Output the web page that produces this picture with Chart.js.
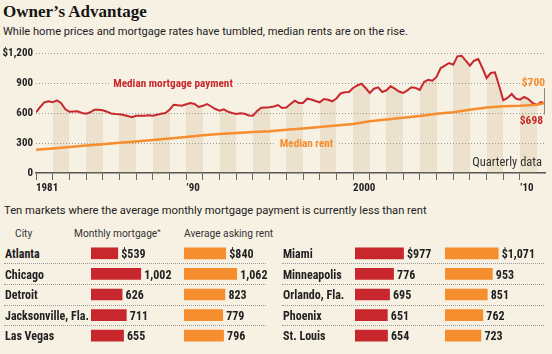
<!DOCTYPE html>
<html>
<head>
<meta charset="utf-8">
<script src="https://cdn.jsdelivr.net/npm/chart.js@4.4.1/dist/chart.umd.min.js"></script>
<style>
  html, body { margin: 0; padding: 0; }
  body { width: 552px; height: 354px; background: #f7f1e3; position: relative; overflow: hidden;
         font-family: Roboto, sans-serif; color: #222; }
  .t { position: absolute; white-space: nowrap; }
  #title { left: 3px; top: 2.5px; font: bold 17px/17px "Liberation Serif", serif; color: #151515; }
  #sub { left: 3px; top: 26px; font-size: 11.1px; line-height: 11px; }
  #ten { left: 4px; top: 205px; font-size: 11.2px; line-height: 11px; }
  .hd { top: 228.7px; font-size: 10.2px; line-height: 10px; color: #333; }
  .hd sup { font-size: 8px; line-height: 0; vertical-align: 3px; }
  .city { font: bold 12px/12px "Roboto Condensed", Roboto, sans-serif; color: #222; }
  .sep { position: absolute; height: 0; border-top: 1px dotted #9a9a9a; }
  canvas { position: absolute; }
</style>
</head>
<body>
<div class="t" id="title">Owner’s Advantage</div>
<div class="t" id="sub">While home prices and mortgage rates have tumbled, median rents are on the rise.</div>
<canvas id="line" width="552" height="160" style="left:0;top:40px"></canvas>
<div class="t" id="ten">Ten markets where the average monthly mortgage payment is currently less than rent</div>
<div class="t hd" style="left:15px">City</div>
<div class="t hd" style="left:74px">Monthly mortgage<sup>*</sup></div>
<div class="t hd" style="left:184px">Average asking rent</div>
<canvas id="lm" width="92" height="103" style="left:91px;top:243px"></canvas>
<canvas id="lr" width="86" height="103" style="left:184px;top:243px"></canvas>
<canvas id="rm" width="90" height="103" style="left:355px;top:243px"></canvas>
<canvas id="rr" width="107" height="103" style="left:445px;top:243px"></canvas>

<script>
// quarterly median mortgage payment, 1981 Q1 onwards
const mortgageStart = 1981;
const mortgage = [
  607, 660, 707, 717,   707, 727, 700, 640,   612, 615, 617, 600,   593, 607, 633, 632,
  628, 613, 595, 590,   587, 580, 570, 557,   573, 573, 573, 578,   573, 583, 593, 600,
  633, 683, 677, 673,   688, 700, 690, 660,   672, 690, 665, 640,   623, 637, 613, 600,
  590, 597, 592, 575,   573, 620, 653, 655,   657, 665, 680, 650,   655, 690, 723, 700,
  700, 743, 735, 720,   707, 740, 733, 717,   745, 795, 807, 810,   850, 875, 893, 850,
  800, 843, 857, 810,   827, 867, 843, 815,   800, 827, 857, 850,   830, 910, 933, 923,
  960, 1050, 1073, 1100, 1083, 1167, 1173, 1123, 1073, 1123, 1140, 1050, 950, 1000, 1007, 873,
  727, 750, 790, 745,   733, 760, 740, 700,   680, 710, 698
];

// median rent
const rentYears = [1981, 1982, 1983, 1984, 1985, 1986, 1987, 1988, 1989, 1990, 1991, 1992, 1993, 1994, 1995, 1996,
  1997, 1998, 1999, 2000, 2001, 2002, 2003, 2004, 2005, 2006, 2007, 2008, 2009, 2010, 2011, 2011.5];
const rent = [232, 246, 260, 274, 288, 302, 316, 330, 344, 360, 378, 390, 400, 410, 418, 432,
  446, 460, 474, 490, 518, 535, 552, 570, 592, 608, 632, 656, 668, 672, 682, 700];

const tickYears = [1981, 1990, 2000, 2010];
const tickText = ['1981', '’90', '2000', '’10'];

const leftCities = ['Atlanta', 'Chicago', 'Detroit', 'Jacksonville, Fla.', 'Las Vegas'];
const leftMortgage = [539, 1002, 626, 711, 655];
const leftRent = [840, 1062, 823, 779, 796];
const rightCities = ['Miami', 'Minneapolis', 'Orlando, Fla.', 'Phoenix', 'St. Louis'];
const rightMortgage = [977, 776, 695, 651, 654];
const rightRent = [1071, 953, 851, 762, 723];

const BG = '#f7f1e3';
const RED = '#c8282d';
const ORANGE = '#f68d2e';
const BAND = 'rgba(190,160,110,0.19)';
const CLEAR = 'rgba(190,160,110,0)';
const COND = '"Roboto Condensed", Roboto, sans-serif';
const PX_PER_DOLLAR = 0.0497;

Chart.defaults.font.family = COND;

// alternate years shaded, only under the mortgage line
function yearBands(context) {
  const chart = context.chart;
  const area = chart.chartArea;
  const x = chart.scales.x;
  if (!area || !x) return BAND;
  const w = area.right - area.left;
  const g = chart.ctx.createLinearGradient(area.left, 0, area.right, 0);
  g.addColorStop(0, CLEAR);
  for (let yr = Math.ceil(x.min); yr < x.max; yr++) {
    if (yr % 2) continue;
    const a = (x.getPixelForValue(yr) - area.left) / w;
    const b = Math.min(1, (x.getPixelForValue(yr + 1) - area.left) / w);
    g.addColorStop(a, CLEAR);
    g.addColorStop(a, BAND);
    g.addColorStop(b, BAND);
    g.addColorStop(b, CLEAR);
  }
  return g;
}

const seriesNotes = [
  { text: 'Median mortgage payment', x: 1989.21, y: 900, color: RED },
  { text: 'Median rent', x: 1997.21, y: 300, color: ORANGE }
];

const notes = {
  id: 'notes',
  beforeDatasetsDraw(chart) {
    // cut the dotted gridline behind the series names
    const { ctx, scales } = chart;
    ctx.save();
    ctx.font = 'bold 11.2px ' + COND;
    for (const n of seriesNotes) {
      const w = ctx.measureText(n.text).width;
      const x = scales.x.getPixelForValue(n.x);
      const y = scales.y.getPixelForValue(n.y);
      ctx.fillStyle = BG;
      ctx.fillRect(x - w / 2 - 4, y - 2, w + 8, 4);
    }
    ctx.restore();
  },
  afterDatasetsDraw(chart) {
    const { ctx, scales, chartArea } = chart;
    ctx.save();
    ctx.font = 'bold 11.2px ' + COND;
    ctx.textAlign = 'center';
    for (const n of seriesNotes) {
      ctx.fillStyle = n.color;
      ctx.fillText(n.text, scales.x.getPixelForValue(n.x), scales.y.getPixelForValue(n.y) + 4);
    }
    // end values
    ctx.font = 'bold 11.5px ' + COND;
    ctx.textAlign = 'right';
    ctx.fillStyle = ORANGE;
    ctx.fillText('$' + rent[rent.length - 1], chartArea.right, scales.y.getPixelForValue(913) + 4.1);
    ctx.fillStyle = RED;
    ctx.fillText('$' + mortgage[mortgage.length - 1], chartArea.right - 2, scales.y.getPixelForValue(530) + 4.1);
    ctx.strokeStyle = '#888';
    ctx.lineWidth = 1;
    ctx.beginPath();
    ctx.moveTo(chartArea.right - 0.5, scales.y.getPixelForValue(850));
    ctx.lineTo(chartArea.right - 0.5, scales.y.getPixelForValue(585));
    ctx.stroke();
    ctx.font = '12.5px ' + COND;
    ctx.fillStyle = '#333';
    ctx.fillText('Quarterly data', chartArea.right - 3, scales.y.getPixelForValue(113) + 4.4);
    ctx.restore();
  }
};

new Chart(document.getElementById('line').getContext('2d'), {
  type: 'line',
  data: {
    datasets: [
      {
        label: 'Median rent',
        data: rent.map((v, i) => ({ x: rentYears[i], y: v })),
        borderColor: ORANGE,
        borderWidth: 2.5,
        pointRadius: 0,
        fill: false
      },
      {
        label: 'Median mortgage payment',
        data: mortgage.map((v, i) => ({ x: mortgageStart + i / 4, y: v })),
        borderColor: RED,
        borderWidth: 2,
        pointRadius: 0,
        fill: 'origin',
        backgroundColor: yearBands
      }
    ]
  },
  options: {
    responsive: false,
    animation: false,
    layout: { padding: { top: 13, right: 7, left: 0, bottom: 0 } },
    scales: {
      x: {
        type: 'linear',
        min: 1981,
        max: 2011.5,
        afterFit: s => { s.height = 27; },
        afterBuildTicks: s => { s.ticks = s.ticks.filter(t => Number.isInteger(t.value)); },
        grid: { drawOnChartArea: false, drawTicks: true, tickLength: 7, color: '#666', tickColor: '#666' },
        border: { display: true, color: '#555', width: 1.5 },
        ticks: {
          stepSize: 1,
          autoSkip: false,
          maxRotation: 0,
          align: 'start',
          padding: 2,
          color: '#222',
          font: { size: 11, weight: 'bold' },
          callback: v => {
            const k = tickYears.indexOf(v);
            return k >= 0 ? tickText[k] : '';
          }
        }
      },
      y: {
        min: 0,
        max: 1200,
        afterFit: s => { s.width = 36; },
        grid: {
          drawTicks: false,
          color: c => (c.tick && c.tick.value === 0 ? 'rgba(0,0,0,0)' : '#9a9a9a')
        },
        border: { display: false, dash: [1, 2] },
        ticks: {
          stepSize: 300,
          padding: 3,
          color: '#222',
          font: { size: 11, weight: 'bold' },
          callback: v => (v === 1200 ? '$1,200' : v)
        }
      }
    },
    plugins: {
      legend: { display: false },
      tooltip: { enabled: false }
    }
  },
  plugins: [notes]
});

// ----- table -----
const barValues = {
  id: 'barValues',
  afterDatasetsDraw(chart) {
    const ctx = chart.ctx;
    const data = chart.data.datasets[0].data;
    ctx.save();
    ctx.font = 'bold 12px ' + COND;
    ctx.fillStyle = '#222';
    chart.getDatasetMeta(0).data.forEach((bar, i) => {
      const txt = (i === 0 ? '$' : '') + data[i].toLocaleString('en-US');
      ctx.fillText(txt, bar.x + 3.5, bar.y + 4.7);
    });
    ctx.restore();
  }
};

function barColumn(id, cities, values, color) {
  const canvas = document.getElementById(id);
  new Chart(canvas.getContext('2d'), {
    type: 'bar',
    data: { labels: cities, datasets: [{ data: values, backgroundColor: color, barThickness: 11 }] },
    options: {
      indexAxis: 'y',
      responsive: false,
      animation: false,
      layout: { padding: 0 },
      scales: {
        x: { display: false, min: 0, max: canvas.width / PX_PER_DOLLAR },
        y: { display: false }
      },
      plugins: { legend: { display: false }, tooltip: { enabled: false } }
    },
    plugins: [barValues]
  });
}

barColumn('lm', leftCities, leftMortgage, RED);
barColumn('lr', leftCities, leftRent, ORANGE);
barColumn('rm', rightCities, rightMortgage, RED);
barColumn('rr', rightCities, rightRent, ORANGE);

function cityNames(cities, left) {
  cities.forEach((c, i) => {
    const d = document.createElement('div');
    d.className = 't city';
    d.style.left = left + 'px';
    d.style.top = (248 + 20.6 * i) + 'px';
    d.textContent = c;
    document.body.appendChild(d);
    if (i < cities.length - 1) {
      const s = document.createElement('div');
      s.className = 'sep';
      s.style.left = (left - 1) + 'px';
      s.style.width = '262px';
      s.style.top = Math.round(263.3 + 20.6 * i) + 'px';
      document.body.appendChild(s);
    }
  });
}
cityNames(leftCities, 5);
cityNames(rightCities, 283);
</script>
</body>
</html>
